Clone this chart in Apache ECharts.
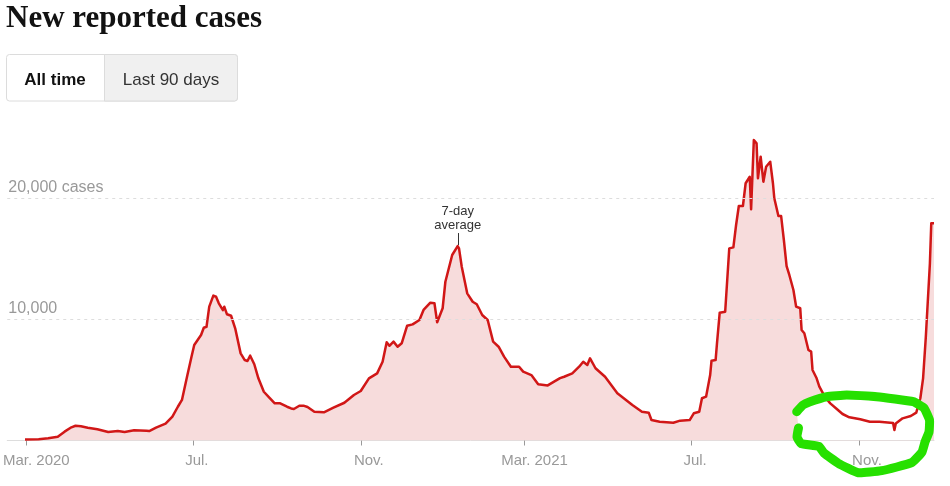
<!DOCTYPE html>
<html>
<head>
<meta charset="utf-8">
<script src="https://cdn.jsdelivr.net/npm/echarts@6/dist/echarts.min.js"></script>
<style>
  html, body { margin: 0; padding: 0; background: #fff; }
  #chart { width: 950px; height: 486px; }
</style>
</head>
<body>
<div id="chart"></div>
<script>
// 7-day average of new reported cases
var dates = [
  '2020-02-29', '2020-03-10', '2020-03-17', '2020-03-24', '2020-03-29', '2020-04-03', '2020-04-06', '2020-04-10',
  '2020-04-15', '2020-04-22', '2020-04-30', '2020-05-07', '2020-05-12', '2020-05-19', '2020-05-28', '2020-05-30',
  '2020-06-04', '2020-06-11', '2020-06-16', '2020-06-20', '2020-06-23', '2020-06-27', '2020-06-30', '2020-07-02',
  '2020-07-07', '2020-07-09', '2020-07-11', '2020-07-13', '2020-07-16', '2020-07-18', '2020-07-20', '2020-07-21',
  '2020-07-23', '2020-07-24', '2020-07-26', '2020-07-29', '2020-08-01', '2020-08-05', '2020-08-08', '2020-08-10',
  '2020-08-12', '2020-08-15', '2020-08-18', '2020-08-22', '2020-08-26', '2020-08-30', '2020-09-03', '2020-09-08',
  '2020-09-11', '2020-09-13', '2020-09-17', '2020-09-20', '2020-09-23', '2020-09-28', '2020-10-05', '2020-10-12',
  '2020-10-20', '2020-10-27', '2020-11-01', '2020-11-07', '2020-11-13', '2020-11-17', '2020-11-20', '2020-11-22',
  '2020-11-25', '2020-11-28', '2020-12-01', '2020-12-05', '2020-12-09', '2020-12-14', '2020-12-17', '2020-12-22',
  '2020-12-25', '2020-12-27', '2020-12-31', '2021-01-02', '2021-01-07', '2021-01-11', '2021-01-12', '2021-01-14',
  '2021-01-18', '2021-01-22', '2021-01-25', '2021-01-29', '2021-02-02', '2021-02-06', '2021-02-10', '2021-02-14',
  '2021-02-19', '2021-02-25', '2021-02-28', '2021-03-06', '2021-03-11', '2021-03-18', '2021-03-27', '2021-03-30',
  '2021-04-05', '2021-04-10', '2021-04-13', '2021-04-16', '2021-04-18', '2021-04-22', '2021-04-29', '2021-05-08',
  '2021-05-19', '2021-05-26', '2021-05-31', '2021-06-02', '2021-06-08', '2021-06-18', '2021-06-23', '2021-06-30',
  '2021-07-03', '2021-07-07', '2021-07-09', '2021-07-12', '2021-07-15', '2021-07-16', '2021-07-19', '2021-07-20',
  '2021-07-22', '2021-07-26', '2021-07-29', '2021-08-01', '2021-08-03', '2021-08-05', '2021-08-08', '2021-08-10',
  '2021-08-13', '2021-08-14', '2021-08-16', '2021-08-18', '2021-08-19', '2021-08-21', '2021-08-23', '2021-08-25',
  '2021-08-28', '2021-08-30', '2021-08-31', '2021-09-03', '2021-09-05', '2021-09-07', '2021-09-09', '2021-09-11',
  '2021-09-14', '2021-09-16', '2021-09-19', '2021-09-20', '2021-09-22', '2021-09-25', '2021-09-27', '2021-09-28',
  '2021-10-01', '2021-10-03', '2021-10-07', '2021-10-11', '2021-10-16', '2021-10-20', '2021-10-25', '2021-11-02',
  '2021-11-09', '2021-11-16', '2021-11-26', '2021-11-27', '2021-11-28', '2021-12-03', '2021-12-09', '2021-12-13',
  '2021-12-16', '2021-12-18', '2021-12-20', '2021-12-23', '2021-12-24', '2021-12-26'
];
var cases = [
  90, 110, 180, 310, 730, 1090, 1220, 1170,
  1060, 925, 700, 785, 700, 840, 810, 785,
  1060, 1390, 1970, 2790, 3350, 5410, 6930, 7890,
  8720, 9320, 9400, 11060, 11970, 11880, 11340, 11250,
  10780, 11060, 10430, 10310, 9270, 7200, 6650, 6570,
  7010, 6300, 5140, 4030, 3540, 3070, 3070, 2790,
  2650, 2600, 2870, 2880, 2770, 2380, 2330, 2710,
  3120, 3760, 4090, 5140, 5550, 6510, 8120, 7830,
  8170, 7750, 8030, 9490, 9600, 9960, 10790, 11390,
  11340, 9770, 10930, 13120, 15330, 16070, 15880, 14360,
  12160, 11470, 11260, 10370, 9960, 8170, 7750, 6930,
  6100, 6100, 5690, 5410, 4640, 4550, 5150, 5270,
  5550, 6100, 6510, 6240, 6790, 5970, 5270, 3900,
  2930, 2380, 2300, 1690, 1550, 1470, 1640, 1690,
  2250, 2380, 3490, 3620, 5410, 6600, 6650, 8030,
  10560, 10640, 15880, 15960, 17810, 19380, 19380, 21260,
  21800, 19110, 24830, 24560, 21670, 23450, 21390, 22630,
  23040, 21260, 20020, 18550, 18550, 16570, 14420, 13680,
  12440, 11060, 10930, 9130, 8860, 7480, 7340, 5830,
  5140, 4450, 3620, 3070, 2580, 2190, 1920, 1750,
  1550, 1550, 1450, 870, 1400, 1830, 2020, 2300,
  3490, 5140, 8550, 14640, 17950, 17950
];

// x axis ticks
var tickDates = ['2020-03-01', '2020-07-01', '2020-11-01', '2021-03-01', '2021-07-01', '2021-11-01'];
var tickLabels = ['Mar. 2020', 'Jul.', 'Nov.', 'Mar. 2021', 'Jul.', 'Nov.'];
// y axis gridlines
var gridValues = [10000, 20000];
var gridLabels = ['10,000', '20,000 cases'];

var peakDate = '2021-01-11';
var peakValue = 16070;

// one category per day for the axis
function dayList(from, to) {
    var out = [];
    var d = new Date(from + 'T00:00:00Z');
    var end = new Date(to + 'T00:00:00Z');
    while (d <= end) {
        out.push(d.toISOString().slice(0, 10));
        d.setUTCDate(d.getUTCDate() + 1);
    }
    return out;
}
var days = dayList('2020-02-16', '2021-12-26');

var seriesData = dates.map(function(d, i) { return [d, cases[i]]; });

var font = "'Liberation Sans', Arial, sans-serif";
var chart = echarts.init(document.getElementById('chart'));

chart.setOption({
    backgroundColor: '#fff',
    animation: false,
    title: {
        text: 'New reported cases',
        left: 6,
        top: 3,
        padding: 0,
        textStyle: {
            fontFamily: "'Liberation Serif', 'Times New Roman', serif",
            fontWeight: 'bold',
            fontSize: 31,
            color: '#121212'
        }
    },
    grid: { left: 6, right: 16, top: 138, bottom: 45.5 },
    xAxis: {
        type: 'category',
        data: days,
        boundaryGap: false,
        axisLine: { lineStyle: { color: '#ddd', width: 1 } },
        axisTick: {
            interval: function(index, value) { return tickDates.indexOf(value) >= 0; },
            length: 5,
            lineStyle: { color: '#999' }
        },
        axisLabel: {
            interval: function(index, value) { return tickDates.indexOf(value) >= 0; },
            margin: 13,
            color: '#999',
            fontFamily: font,
            fontSize: 15,
            formatter: function(value) {
                var i = tickDates.indexOf(value);
                if (i < 0) return '';
                var t = tickLabels[i];
                var key = t.indexOf('Mar') === 0 ? 'm' : (t === 'Jul.' ? 'j' : 'n');
                return '{' + key + '|' + t + '}';
            },
            rich: {
                m: { padding: [0, 0, 0, 20], color: '#999', fontFamily: font, fontSize: 15 },
                j: { padding: [0, 0, 0, 8], color: '#999', fontFamily: font, fontSize: 15 },
                n: { padding: [0, 0, 0, 16], color: '#999', fontFamily: font, fontSize: 15 }
            }
        },
        splitLine: { show: false }
    },
    yAxis: {
        type: 'value',
        min: 0,
        max: 25000,
        interval: 10000,
        axisLine: { show: false },
        axisTick: { show: false },
        splitLine: { show: false },
        axisLabel: {
            inside: true,
            margin: 1,
            align: 'left',
            verticalAlign: 'bottom',
            padding: [0, 0, 3, 0],
            color: '#999',
            fontFamily: font,
            fontSize: 16,
            formatter: function(v) {
                var i = gridValues.indexOf(v);
                return i < 0 ? '' : gridLabels[i];
            }
        }
    },
    series: [
        {
            // pink fill under the curve
            type: 'line',
            data: seriesData,
            showSymbol: false,
            silent: true,
            z: 1,
            lineStyle: { width: 0 },
            areaStyle: { color: '#f7dcdc', opacity: 1 }
        },
        {
            type: 'line',
            data: seriesData,
            showSymbol: false,
            silent: true,
            z: 3,
            lineStyle: { color: '#d11717', width: 2.5, join: 'round' },
            markLine: {
                silent: true,
                symbol: 'none',
                label: { show: false },
                lineStyle: { color: '#ddd', type: [3, 4], width: 1 },
                data: gridValues.map(function(v) { return { yAxis: v }; })
            }
        }
    ]
});

// annotation next to the winter peak
var peak = chart.convertToPixel({ gridIndex: 0 }, [peakDate, peakValue]);

// hand drawn loop around the autumn 2021 trough
var loop = [
    [796.7, 411.7], [803, 405], [810, 401.7], [826.7, 396.7], [846.7, 395], [876.7, 396.7],
    [913.3, 401.7], [924, 408], [929.5, 420], [929, 432], [925, 442], [922, 452],
    [911.7, 462.7], [881.7, 470.7], [858.3, 472.7], [838.3, 463.3], [824, 453],
    [819, 446.5], [801, 443.5], [797, 437], [798.5, 428]
];
var loopMask = loop.map(function(p) { return [p[0], Math.min(p[1], 440)]; });

chart.setOption({
    graphic: [
        // range buttons
        {
            type: 'rect', z: 10,
            shape: { x: 6.5, y: 54.5, width: 231, height: 46.5, r: 3 },
            style: { fill: '#fff', stroke: '#dcdcdc', lineWidth: 1 }
        },
        {
            type: 'rect', z: 10,
            shape: { x: 104.5, y: 54.5, width: 133, height: 46.5, r: [0, 3, 3, 0] },
            style: { fill: '#f0f0f0', stroke: '#dcdcdc', lineWidth: 1 }
        },
        {
            type: 'text', z: 11, x: 55, y: 80.5,
            style: {
                text: 'All time', align: 'center', verticalAlign: 'middle',
                fontFamily: font, fontWeight: 'bold', fontSize: 17, fill: '#121212'
            }
        },
        {
            type: 'text', z: 11, x: 171, y: 80.5,
            style: {
                text: 'Last 90 days', align: 'center', verticalAlign: 'middle',
                fontFamily: font, fontSize: 17, fill: '#333'
            }
        },
        // 7-day average label
        {
            type: 'line', z: 4,
            shape: { x1: Math.round(peak[0]) + 0.5, y1: peak[1] - 13, x2: Math.round(peak[0]) + 0.5, y2: peak[1] - 1 },
            style: { stroke: '#333', lineWidth: 1 }
        },
        {
            type: 'text', z: 4, x: peak[0], y: peak[1] - 13,
            style: {
                text: '7-day\naverage', align: 'center', verticalAlign: 'bottom',
                lineHeight: 14.5, fontFamily: font, fontSize: 13, fill: '#333'
            }
        },
        // loop interior, then its stroke
        {
            type: 'polygon', z: 2, silent: true,
            shape: { points: loopMask },
            style: { fill: '#fff' }
        },
        {
            type: 'polyline', z: 20, silent: true,
            shape: { points: loop, smooth: 0.12 },
            style: { stroke: '#26e000', lineWidth: 9, lineCap: 'round', lineJoin: 'round', fill: null }
        }
    ]
});
</script>
</body>
</html>
